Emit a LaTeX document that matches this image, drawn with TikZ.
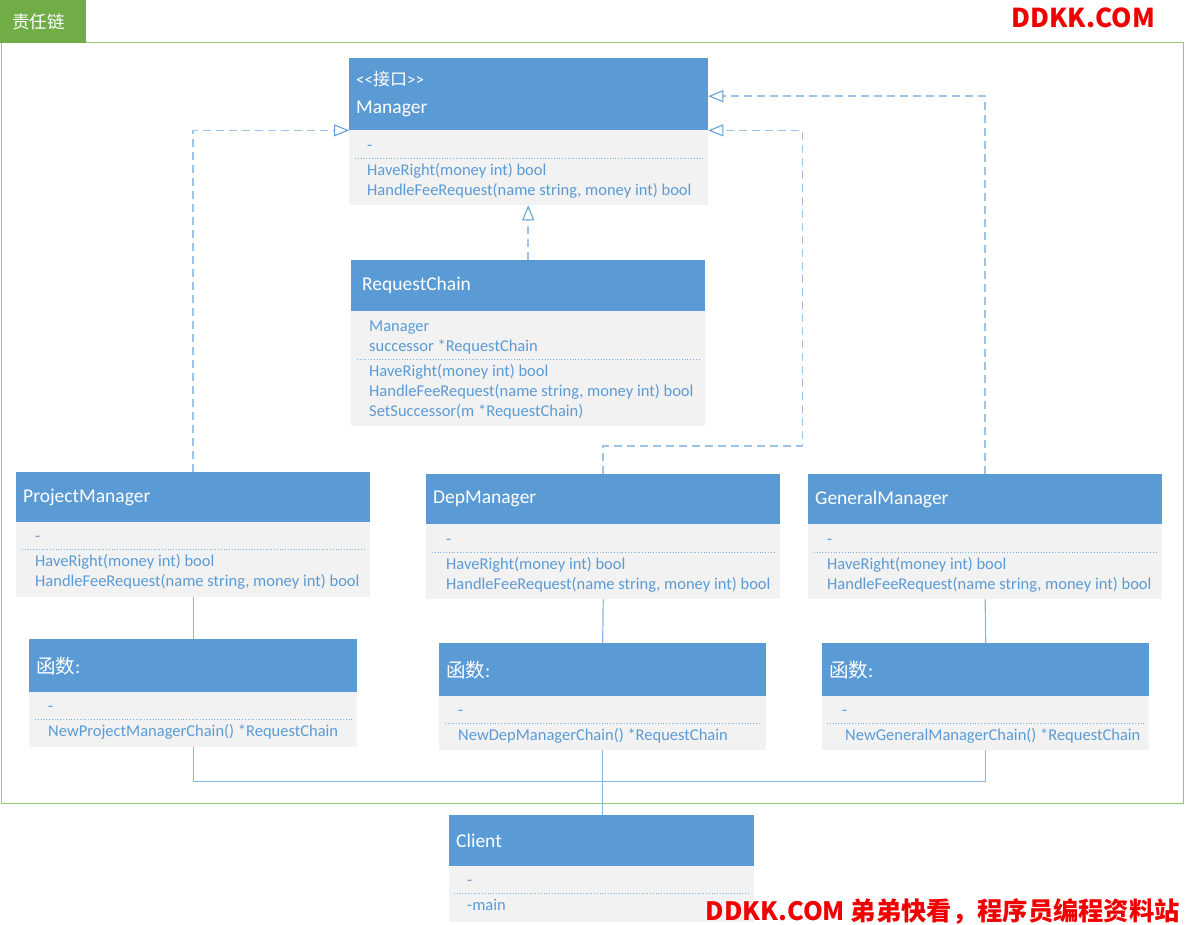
\documentclass[tikz,border=0pt]{standalone}
\usepackage{fontspec}
\setmainfont{Carlito}
\newfontfamily\cjk{Noto Sans CJK SC}
\usetikzlibrary{arrows.meta}
\definecolor{hdblue}{RGB}{91,155,213}
\definecolor{bdgray}{RGB}{242,242,242}
\definecolor{lnblue}{RGB}{157,195,230}
\definecolor{tagreen}{RGB}{112,173,71}
\definecolor{framegreen}{RGB}{150,200,110}
\definecolor{wmred}{RGB}{240,0,0}

\begin{document}
\begin{tikzpicture}[x=1pt, y=-1pt,
        hd/.style={fill=hdblue, text=white, anchor=north west, align=left, inner xsep=7pt, inner ysep=0pt, font=\fontsize{19.5}{23}\selectfont},
        bd/.style={fill=bdgray, anchor=north west, inner sep=0pt},
        txt/.style={text=hdblue, anchor=north west, inner sep=0pt, align=left, font=\fontsize{16.5}{20}\selectfont},
        sep/.style={draw=hdblue!80, dotted, line width=0.8pt},
        real/.style={draw=lnblue, dash pattern=on 8pt off 5pt, line width=1.5pt, -{Triangle[open, length=15pt, width=12pt, color=hdblue, line width=1pt]}},
        link/.style={draw=lnblue!70!hdblue, line width=1.2pt},
        wm/.style={text=wmred, anchor=east, inner sep=0pt, font=\fontsize{26}{28}\selectfont\cjk\bfseries}
      ]
      \useasboundingbox (0,0) rectangle (1186,925);
      \draw[framegreen, line width=1pt] (1,43) rectangle (1183,803);
      \node [fill=tagreen, text=white, anchor=north west, minimum height=43pt, text width=62pt, inner xsep=12pt, inner ysep=0pt, align=left, font=\fontsize{17.5}{20}\selectfont\cjk] (tag) at (0,0) {责任链};
      \node [wm] (wmtop) at (1155,18) {DDKK.COM};

      \node [hd, text width=345pt, minimum height=72pt] (mgr) at (349,58) {{\fontsize{17}{17}\selectfont<{}<{\cjk 接口}>{}>}\\[5pt]Manager};
      \node [bd, minimum width=359pt, minimum height=75pt] (mgrb) at (349,130) {};
      \node [txt] (mgra) at (367,136) {\strut-};
      \node [txt] (mgrm) at (367,161) {\strut HaveRight(money int) bool\\HandleFeeRequest(name string, money int) bool};
      \draw[sep] (355,158) -- (703,158);

      \node [hd, text width=332pt, inner xsep=11pt, minimum height=51pt] (chain) at (351,260) {RequestChain};
      \node [bd, minimum width=354pt, minimum height=115pt] (chainb) at (351,311) {};
      \node [txt] (chaina) at (369,317) {\strut Manager\\successor *RequestChain};
      \node [txt] (chainm) at (369,362) {\strut HaveRight(money int) bool\\HandleFeeRequest(name string, money int) bool\\SetSuccessor(m *RequestChain)};
      \draw[sep] (357,359) -- (700,359);

      \node [hd, text width=340pt, minimum height=50pt] (pm) at (16,472) {ProjectManager};
      \node [bd, minimum width=354pt, minimum height=75pt] (pmb) at (16,522) {};
      \node [txt] (pma) at (35,527) {\strut-};
      \node [txt] (pmm) at (35,552) {\strut HaveRight(money int) bool\\HandleFeeRequest(name string, money int) bool};
      \draw[sep] (22,549) -- (365,549);

      \node [hd, text width=340pt, minimum height=50pt] (dep) at (426,474) {DepManager};
      \node [bd, minimum width=354pt, minimum height=75pt] (depb) at (426,524) {};
      \node [txt] (depa) at (446,530) {\strut-};
      \node [txt] (depm) at (446,555) {\strut HaveRight(money int) bool\\HandleFeeRequest(name string, money int) bool};
      \draw[sep] (432,552) -- (775,552);

      \node [hd, text width=340pt, minimum height=50pt] (gen) at (808,474) {GeneralManager};
      \node [bd, minimum width=354pt, minimum height=75pt] (genb) at (808,524) {};
      \node [txt] (gena) at (827,530) {\strut-};
      \node [txt] (genm) at (827,555) {\strut HaveRight(money int) bool\\HandleFeeRequest(name string, money int) bool};
      \draw[sep] (814,552) -- (1157,552);

      \node [hd, text width=314pt, minimum height=53pt] (pmf) at (29,639) {{\cjk 函数}:};
      \node [bd, minimum width=328pt, minimum height=55pt] (pmfb) at (29,692) {};
      \node [txt] (pmfa) at (48,697) {\strut-};
      \node [txt] (pmfm) at (48,722) {\strut NewProjectManagerChain() *RequestChain};
      \draw[sep] (35,719) -- (352,719);

      \node [hd, text width=313pt, minimum height=53pt] (depf) at (439,643) {{\cjk 函数}:};
      \node [bd, minimum width=327pt, minimum height=54pt] (depfb) at (439,696) {};
      \node [txt] (depfa) at (458,701) {\strut-};
      \node [txt] (depfm) at (458,726) {\strut NewDepManagerChain() *RequestChain};
      \draw[sep] (445,723) -- (761,723);

      \node [hd, text width=313pt, minimum height=53pt] (genf) at (822,643) {{\cjk 函数}:};
      \node [bd, minimum width=327pt, minimum height=54pt] (genfb) at (822,696) {};
      \node [txt] (genfa) at (842,701) {\strut-};
      \node [txt] (genfm) at (845,726) {\strut NewGeneralManagerChain() *RequestChain};
      \draw[sep] (827,723) -- (1144,723);

      \node [hd, text width=291pt, minimum height=51pt] (client) at (449,815) {Client};
      \node [bd, minimum width=305pt, minimum height=56pt] (clientb) at (449,866) {};
      \node [txt] (clienta) at (467,871) {\strut-};
      \node [txt] (clientm) at (467,896) {\strut-main};
      \draw[sep] (454,893) -- (749,893);

      \draw[real] (chain.north) -- (chain.north |- mgrb.south);
      \draw[real] (pm.north) |- (mgr.south west);
      \draw[real] (dep.north) -- ++(0,-28) -| ([xshift=94pt]mgr.south east) -- (mgr.south east);
      \draw[real] (gen.north) |- ([yshift=-2pt]mgr.east);
      \draw[link] (pmb.south) -- (pmf.north);
      \draw[link] (depb.south) -- (depf.north);
      \draw[link] (genb.south) -- (genf.north);
      \draw[link] (pmfb.south) -- ++(0,34) -| (genfb.south);
      \draw[link] (depfb.south) -- (depfb.south |- client.north);

      \node [wm, font=\fontsize{25.3}{28}\selectfont\cjk\bfseries] (wmbot) at (1180,912) {DDKK.COM 弟弟快看，程序员编程资料站};
    \end{tikzpicture}
\end{document}
